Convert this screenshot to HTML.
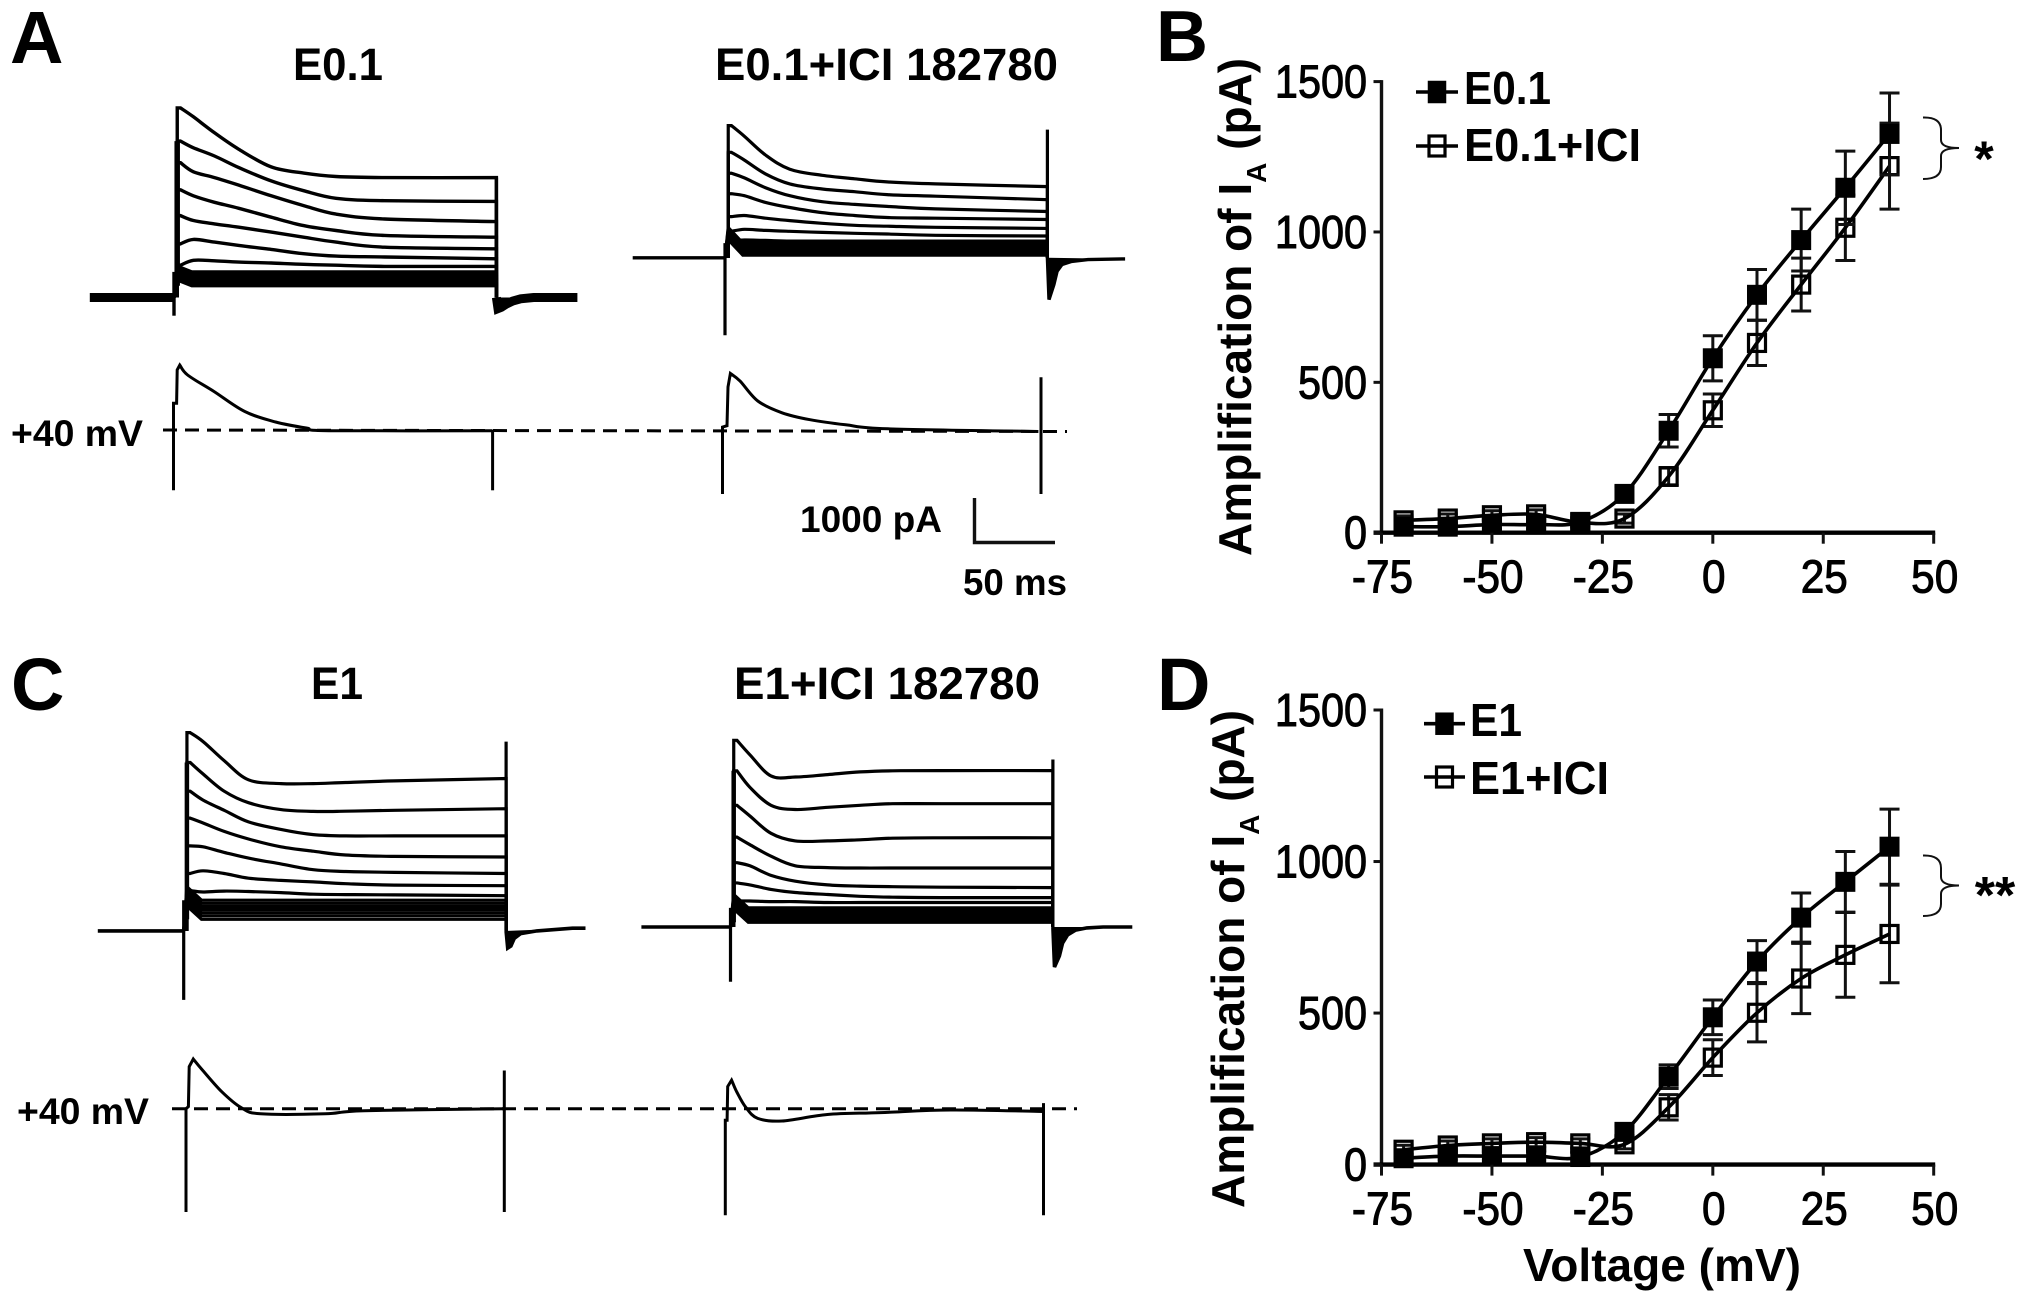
<!DOCTYPE html>
<html lang="en">
<head>
<meta charset="utf-8">
<title>Amplification of IA traces and I-V curves</title>
<style>
html,body{margin:0;padding:0;background:#fff}
svg{display:block}
text{font-family:"Liberation Sans",Arial,sans-serif;fill:#000}
.bold{font-weight:700}
</style>
</head>
<body>
<svg id="figure" xmlns="http://www.w3.org/2000/svg" width="2031" height="1306" viewBox="0 0 2031 1306">
<rect x="0" y="0" width="2031" height="1306" fill="#fff"/>

<text class="bold" x="10" y="63" font-size="74">A</text>
<text class="bold" x="1156" y="61" font-size="72">B</text>
<text class="bold" x="11" y="710" font-size="74">C</text>
<text class="bold" x="1157" y="710" font-size="74">D</text>

<text class="bold" x="293" y="80" font-size="45" textLength="90" lengthAdjust="spacingAndGlyphs">E0.1</text>
<text class="bold" x="715" y="80" font-size="45" textLength="343" lengthAdjust="spacingAndGlyphs">E0.1+ICI 182780</text>
<text class="bold" x="311" y="699" font-size="45" textLength="52" lengthAdjust="spacingAndGlyphs">E1</text>
<text class="bold" x="734" y="699" font-size="45" textLength="306" lengthAdjust="spacingAndGlyphs">E1+ICI 182780</text>

<text class="bold" x="11" y="446" font-size="37" textLength="132" lengthAdjust="spacingAndGlyphs">+40 mV</text>
<text class="bold" x="17" y="1124" font-size="37" textLength="132" lengthAdjust="spacingAndGlyphs">+40 mV</text>

<line x1="163" y1="430" x2="1067" y2="431.5" stroke="#000" stroke-width="3" stroke-dasharray="14 8"/>
<line x1="172" y1="1108.8" x2="1077" y2="1108.8" stroke="#000" stroke-width="3" stroke-dasharray="14 8"/>

<text class="bold" x="800" y="532" font-size="37" textLength="142" lengthAdjust="spacingAndGlyphs">1000 pA</text>
<text class="bold" x="963" y="595" font-size="37" textLength="104" lengthAdjust="spacingAndGlyphs">50 ms</text>
<path d="M974.5 498V542.5H1055" fill="none" stroke="#111" stroke-width="3.4"/>

<g id="traces"></g>
<g id="plot-b"></g>
<g id="plot-d"></g>

<text class="bold" transform="translate(1251,556) rotate(-90)" font-size="46">Amplification of I<tspan dy="15" font-size="28">A</tspan><tspan dy="-15"> (pA)</tspan></text>
<text class="bold" transform="translate(1244,1208) rotate(-90)" font-size="46">Amplification of I<tspan dy="15" font-size="28">A</tspan><tspan dy="-15"> (pA)</tspan></text>
<text class="bold" x="1523" y="1281" font-size="46" textLength="278" lengthAdjust="spacingAndGlyphs">Voltage (mV)</text>

<text class="bold" x="1464" y="104" font-size="46" textLength="87" lengthAdjust="spacingAndGlyphs">E0.1</text>
<text class="bold" x="1464" y="161" font-size="46" textLength="177" lengthAdjust="spacingAndGlyphs">E0.1+ICI</text>
<text class="bold" x="1470" y="736" font-size="46" textLength="52" lengthAdjust="spacingAndGlyphs">E1</text>
<text class="bold" x="1470" y="794" font-size="46" textLength="139" lengthAdjust="spacingAndGlyphs">E1+ICI</text>

<path d="M1923 117.5Q1941 117 1941 130V140Q1941 148 1959 148Q1941 148 1941 156V167Q1941 179 1923 179" fill="none" stroke="#111" stroke-width="2"/>
<text class="bold" x="1984" y="176" font-size="50" text-anchor="middle">*</text>
<path d="M1923 855.5Q1941 855 1941 868V877Q1941 885.5 1959 885.5Q1941 885.5 1941 894V904Q1941 916 1923 916" fill="none" stroke="#111" stroke-width="2"/>
<text class="bold" x="1995" y="913" font-size="52" text-anchor="middle">**</text>
</svg>

<script>
// ---------- I-V plot data (voltage in mV, amplitude in pA) ----------
const voltages = [-70, -60, -50, -40, -30, -20, -10, 0, 10, 20, 30, 40];
const xTickValues = [-75, -50, -25, 0, 25, 50];
const yTickValues = [0, 500, 1000, 1500];

const e01Mean = [20, 20, 27, 27, 36, 129, 339, 580, 791, 973, 1147, 1326];
const e01Err = [12, 12, 14, 14, 14, 25, 54, 75, 84, 103, 122, 136];
const e01IciMean = [41, 47, 58, 61, 34, 47, 187, 407, 631, 825, 1014, 1219];
const e01IciErr = [15, 15, 15, 15, 15, 15, 30, 54, 75, 88, 109, 143];

const e1Mean = [21, 28, 28, 28, 25, 108, 290, 486, 670, 815, 933, 1049];
const e1Err = [12, 12, 14, 14, 14, 20, 39, 57, 69, 81, 100, 124];
const e1IciMean = [49, 63, 70, 74, 70, 67, 189, 353, 501, 614, 692, 761];
const e1IciErr = [15, 15, 15, 15, 15, 15, 42, 59, 96, 116, 140, 161];

// ---------- Current traces (time in ms from step onset, current in pA) ----------
const sweepTimes = [4, 12, 25, 40, 60, 80, 100, 130, 199];

const sweepsE01 = [
  [4260, 4060, 3700, 3330, 2935, 2795, 2720, 2695, 2695],
  [3515, 3365, 3180, 2920, 2620, 2400, 2230, 2175, 2160],
  [3030, 2825, 2695, 2525, 2285, 2065, 1875, 1765, 1705],
  [2420, 2285, 2140, 2005, 1805, 1615, 1505, 1395, 1355],
  [1840, 1730, 1655, 1580, 1470, 1355, 1245, 1130, 1095],
  [1205, 1305, 1245, 1170, 1080, 985, 930, 910, 870],
  [725, 835, 825, 795, 775, 745, 725, 700, 700]
];
const bandE01 = [575, 520, 465, 410, 355, 300, 265];
const spikeDownE01 = -410;
const spikeUpEndE01 = 2695;
const tailTimesE01 = [0, 2, 5, 9, 14, 22];
const tailValuesE01 = [-250, -220, -150, -80, -30, 0];

const sweepsE01Ici = [
  [2970, 2730, 2310, 1990, 1855, 1775, 1705, 1660, 1600],
  [2370, 2195, 1885, 1660, 1545, 1485, 1420, 1385, 1305],
  [1900, 1795, 1575, 1395, 1260, 1200, 1155, 1100, 1040],
  [1440, 1395, 1245, 1130, 1015, 950, 905, 890, 860],
  [925, 950, 890, 835, 775, 730, 710, 685, 660],
  [595, 640, 615, 595, 570, 550, 535, 505, 490],
  [375, 400, 390, 375, 375, 375, 375, 375, 375]
];
const bandE01Ici = [330, 280, 230, 180, 130, 90, 60];
const spikeDownE01Ici = -1740;
const spikeUpEndE01Ici = 2880;
const tailTimesE01Ici = [0, 3, 5, 8, 14, 24, 45];
const tailValuesE01Ici = [-940, -600, -300, -150, -80, -40, -25];

const sweepsE1 = [
  [4455, 4255, 3825, 3395, 3310, 3310, 3335, 3370, 3425],
  [3785, 3525, 3140, 2880, 2725, 2685, 2690, 2710, 2745],
  [3140, 2940, 2710, 2450, 2280, 2165, 2135, 2135, 2135],
  [2535, 2425, 2235, 2065, 1890, 1790, 1705, 1675, 1660],
  [1910, 1890, 1765, 1635, 1505, 1375, 1335, 1315, 1290],
  [1290, 1350, 1290, 1185, 1135, 1100, 1060, 1030, 1015],
  [905, 875, 895, 885, 860, 825, 815, 810, 790]
];
const bandE1 = [690, 620, 550, 480, 410, 340, 260];
const spikeDownE1 = -1550;
const spikeUpEndE1 = 4255;
const tailTimesE1 = [0, 2, 4, 8, 18, 40];
const tailValuesE1 = [-387, -340, -170, -60, 0, 60];

const sweepsE1Ici = [
  [4195, 3870, 3395, 3370, 3425, 3485, 3510, 3515, 3515],
  [3510, 3140, 2735, 2640, 2690, 2735, 2770, 2770, 2770],
  [2735, 2495, 2105, 1935, 1935, 1960, 1995, 2005, 2005],
  [2020, 1850, 1590, 1375, 1335, 1325, 1325, 1325, 1325],
  [1445, 1375, 1160, 1030, 945, 920, 905, 895, 885],
  [990, 945, 845, 775, 730, 690, 670, 660, 660],
  [585, 585, 570, 570, 550, 550, 550, 550, 550]
];
const bandE1Ici = [430, 380, 330, 270, 210, 160, 105];
const spikeDownE1Ici = -1230;
const spikeUpEndE1Ici = 3765;
const tailTimesE1Ici = [0, 3, 5, 8, 13, 20, 30];
const tailValuesE1Ici = [-900, -650, -360, -180, -70, -20, 0];

// +40 mV subtracted (difference) traces
const diffTimesE01 = [1.9, 2.3, 3.9, 8.7, 25, 44, 63, 82, 96, 197];
const diffValuesE01 = [600, 1350, 1460, 1235, 865, 415, 180, 45, -15, -15];
const diffTimesE01Ici = [2.8, 3.4, 4.9, 10.9, 21.8, 36.7, 54, 76, 102, 195];
const diffValuesE01Ici = [130, 1000, 1305, 1130, 685, 420, 265, 150, 60, 0];
const diffTimesE1 = [1.5, 2, 4.5, 10.4, 22, 34, 46, 86, 110, 196];
const diffValuesE1 = [50, 945, 1118, 860, 387, 26, -112, -112, -43, 0];
const diffTimesE1Ici = [1.1, 1.5, 3.9, 7, 12.5, 20, 35, 63, 96, 139, 196];
const diffValuesE1Ici = [-258, 500, 645, 387, 43, -215, -275, -129, -86, -26, -60];

const diffSpikesE01 = [600, -1355, 0, -1355];
const diffSpikesE01Ici = [100, -1405, 1217, -1405];
const diffSpikesE1 = [0, -2320, 860, -2320];
const diffSpikesE1Ici = [-258, -2390, 129, -2390];

// ---------- Drawing ----------
const SVG_NS = 'http://www.w3.org/2000/svg';
const PX_PER_MS = 1.62;
const PX_PER_PA = 0.0445;
const PULSE_MS = 199;

function make(parent, tag, attrs) {
  const el = document.createElementNS(SVG_NS, tag);
  for (const k in attrs) el.setAttribute(k, attrs[k]);
  parent.appendChild(el);
  return el;
}

function pathFrom(points) {
  return points.map((p, i) => (i ? 'L' : 'M') + p[0].toFixed(1) + ' ' + p[1].toFixed(1)).join('');
}

// smooth curve through points (Catmull-Rom segments), without the leading M
function smoothSegments(points) {
  let d = '';
  for (let i = 0; i < points.length - 1; i++) {
    const p0 = points[i - 1] || points[i];
    const p1 = points[i];
    const p2 = points[i + 1];
    const p3 = points[i + 2] || p2;
    const c1x = p1[0] + (p2[0] - p0[0]) / 6;
    const c1y = p1[1] + (p2[1] - p0[1]) / 6;
    const c2x = p2[0] - (p3[0] - p1[0]) / 6;
    const c2y = p2[1] - (p3[1] - p1[1]) / 6;
    d += 'C' + c1x.toFixed(1) + ' ' + c1y.toFixed(1) + ' ' + c2x.toFixed(1) + ' ' + c2y.toFixed(1) + ' ' + p2[0].toFixed(1) + ' ' + p2[1].toFixed(1);
  }
  return d;
}

function drawCurrentPanel(root, cfg) {
  const tx = t => cfg.x0 + t * PX_PER_MS;
  const ty = v => cfg.baseY - v * PX_PER_PA;
  const style = { fill: 'none', stroke: '#000', 'stroke-width': cfg.width, 'stroke-linejoin': 'miter' };

  const pre = make(root, 'path', Object.assign({ d: pathFrom([[tx(cfg.preMs), ty(0)], [tx(0), ty(0)]]) }, style, { 'stroke-width': cfg.baseWidth }));
  
  

  cfg.sweeps.forEach(values => {
    const pts = sweepTimes.map((t, i) => [tx(t), ty(values[i])]);
    const d = 'M' + tx(2) + ' ' + ty(0) + 'L' + tx(2) + ' ' + ty(values[0]) + 'L' + pts[0][0] + ' ' + pts[0][1] + smoothSegments(pts) + 'L' + tx(PULSE_MS) + ' ' + ty(0);
    const sweep = make(root, 'path', Object.assign({ d: d }, style));
    
    
  });

  cfg.band.forEach(level => {
    const pts = [[tx(0), ty(0)], [tx(2), ty(level + cfg.bandExtra)], [tx(11), ty(level)], [tx(PULSE_MS), ty(level)], [tx(PULSE_MS), ty(0)]];
    const sweep = make(root, 'path', Object.assign({ d: pathFrom(pts) }, style));
    
    
  });

  const column = make(root, 'path', Object.assign({ d: pathFrom([[tx(2), ty(cfg.sweeps[1][0])], [tx(2), ty(cfg.band[cfg.band.length - 1])]]) }, style, { 'stroke-width': cfg.onsetWidth }));
  
  

  const onset = make(root, 'path', Object.assign({ d: pathFrom([[tx(0), ty(cfg.band[0])], [tx(0), ty(cfg.spikeDown)]]) }, style));
  
  

  const offset = make(root, 'path', Object.assign({ d: pathFrom([[tx(PULSE_MS), ty(cfg.spikeUpEnd)], [tx(PULSE_MS), ty(0)]]) }, style));
  
  

  const tailPts = cfg.tailTimes.map((t, i) => [tx(PULSE_MS + 1 + t), ty(cfg.tailValues[i])]);
  const tailLine = [[tx(PULSE_MS), ty(0)]].concat(tailPts, [[tx(cfg.postMs), ty(cfg.tailValues[cfg.tailValues.length - 1])]]);
  const tail = make(root, 'path', Object.assign({ d: pathFrom(tailLine) }, style, { 'stroke-width': cfg.baseWidth }));
  
  

  const tailFill = make(root, 'path', { d: pathFrom([[tx(PULSE_MS), ty(0)]].concat(tailPts)) + 'Z', fill: '#000', stroke: 'none' });
  
  

  const dtx = t => cfg.diffX0 + t * PX_PER_MS;
  const dty = v => cfg.diffY - v * PX_PER_PA;
  const diffPts = cfg.diffTimes.map((t, i) => [dtx(t), dty(cfg.diffValues[i])]);
  const head = [[dtx(0), dty(cfg.diffSpikes[1])], [dtx(0), dty(cfg.diffSpikes[0])], diffPts[0], diffPts[1], diffPts[2]];
  const diff = make(root, 'path', Object.assign({ d: pathFrom(head) + smoothSegments(diffPts.slice(2)) }, style, { 'stroke-width': 3 }));
  
  

  const endX = dtx(cfg.diffEndMs);
  const diffEnd = make(root, 'path', Object.assign({ d: pathFrom([[endX, dty(cfg.diffSpikes[2])], [endX, dty(cfg.diffSpikes[3])]]) }, style, { 'stroke-width': 3 }));
  
  
}

const tracesRoot = document.getElementById('traces');
drawCurrentPanel(tracesRoot, { x0: 174, baseY: 297.5, width: 3.4, baseWidth: 9, onsetWidth: 5.5, bandExtra: 130, preMs: -52, postMs: 249, sweeps: sweepsE01, band: bandE01, spikeDown: spikeDownE01, spikeUpEnd: spikeUpEndE01, tailTimes: tailTimesE01, tailValues: tailValuesE01, diffX0: 173.5, diffY: 430, diffTimes: diffTimesE01, diffValues: diffValuesE01, diffSpikes: diffSpikesE01, diffEndMs: 197 });
drawCurrentPanel(tracesRoot, { x0: 725, baseY: 257.8, width: 3.2, baseWidth: 3.4, onsetWidth: 3.4, bandExtra: 350, preMs: -57, postMs: 247, sweeps: sweepsE01Ici, band: bandE01Ici, spikeDown: spikeDownE01Ici, spikeUpEnd: spikeUpEndE01Ici, tailTimes: tailTimesE01Ici, tailValues: tailValuesE01Ici, diffX0: 722.5, diffY: 431.5, diffTimes: diffTimesE01Ici, diffValues: diffValuesE01Ici, diffSpikes: diffSpikesE01Ici, diffEndMs: 196.6 });
drawCurrentPanel(tracesRoot, { x0: 183.7, baseY: 930.9, width: 3.2, baseWidth: 3.6, onsetWidth: 4.5, bandExtra: 300, preMs: -53, postMs: 248, sweeps: sweepsE1, band: bandE1, spikeDown: spikeDownE1, spikeUpEnd: spikeUpEndE1, tailTimes: tailTimesE1, tailValues: tailValuesE1, diffX0: 186, diffY: 1108.8, diffTimes: diffTimesE1, diffValues: diffValuesE1, diffSpikes: diffSpikesE1, diffEndMs: 196.5 });
drawCurrentPanel(tracesRoot, { x0: 730.5, baseY: 927, width: 3.2, baseWidth: 3.6, onsetWidth: 4.5, bandExtra: 300, preMs: -55, postMs: 248, sweeps: sweepsE1Ici, band: bandE1Ici, spikeDown: spikeDownE1Ici, spikeUpEnd: spikeUpEndE1Ici, tailTimes: tailTimesE1Ici, tailValues: tailValuesE1Ici, diffX0: 725.3, diffY: 1108.8, diffTimes: diffTimesE1Ici, diffValues: diffValuesE1Ici, diffSpikes: diffSpikesE1Ici, diffEndMs: 196.4 });

function drawSeries(root, sx, sy, means, errs, filled) {
  const linePts = voltages.map((v, i) => [sx(v), sy(means[i])]);
  voltages.forEach((v, i) => {
    const x = sx(v);
    const top = sy(means[i] + errs[i]);
    const bottom = sy(means[i] - errs[i]);
    const bar = make(root, 'path', {
      d: 'M' + x + ' ' + top + 'V' + bottom + 'M' + (x - 10) + ' ' + top + 'H' + (x + 10) + 'M' + (x - 10) + ' ' + bottom + 'H' + (x + 10),
      fill: 'none', stroke: '#111', 'stroke-width': 3
    });
    
    
  });
  const line = make(root, 'path', { d: 'M' + linePts[0][0] + ' ' + linePts[0][1] + smoothSegments(linePts), fill: 'none', stroke: '#000', 'stroke-width': 3.6, 'stroke-linejoin': 'round' });
  
  
  voltages.forEach((v, i) => {
    const size = filled ? 19 : 17;
    const marker = make(root, 'rect', {
      x: sx(v) - size / 2, y: sy(means[i]) - size / 2, width: size, height: size,
      fill: filled ? '#000' : 'none', stroke: '#000', 'stroke-width': filled ? 1 : 3.2
    });
    
    
  });
}

function drawAxes(root, sx, sy, x0, y0) {
  const xEnd = sx(50);
  const yTop = sy(1500);
  const yAxis = make(root, 'line', { x1: sx(-75), y1: yTop - 1.5, x2: sx(-75), y2: y0 + 2, stroke: '#111', 'stroke-width': 3.4 });
  
  
  const xAxis = make(root, 'line', { x1: sx(-75) - 8, y1: y0, x2: xEnd + 1.5, y2: y0, stroke: '#000', 'stroke-width': 4.4 });
  
  

  yTickValues.forEach(v => {
    const tick = make(root, 'line', { x1: sx(-75) - 8, y1: sy(v), x2: sx(-75), y2: sy(v), stroke: '#111', 'stroke-width': 3 });
    
    
    const label = make(root, 'text', { transform: 'translate(1367,' + (sy(v) + 16) + ') scale(0.9,1)', 'font-size': 46, 'text-anchor': 'end', stroke: '#000', 'stroke-width': 1 });
    label.textContent = String(v);
    
    
  });
  xTickValues.forEach(v => {
    const tick = make(root, 'line', { x1: sx(v), y1: y0, x2: sx(v), y2: y0 + 11, stroke: '#111', 'stroke-width': 3 });
    
    
    const label = make(root, 'text', { transform: 'translate(' + (sx(v) + 1) + ',' + (y0 + 60) + ') scale(0.92,1)', 'font-size': 46, 'text-anchor': 'middle', stroke: '#000', 'stroke-width': 1 });
    label.textContent = String(v);
    
    
  });
}

function drawLegendKey(root, x1, x2, y, filled) {
  const line = make(root, 'line', { x1: x1, y1: y, x2: x2, y2: y, stroke: '#000', 'stroke-width': 3.6 });
  
  
  const w = filled ? 18 : 16;
  const h = filled ? 22 : 20;
  const cx = (x1 + x2) / 2;
  const marker = make(root, 'rect', { x: cx - w / 2, y: y - h / 2, width: w, height: h, fill: filled ? '#000' : 'none', stroke: '#000', 'stroke-width': filled ? 0.5 : 3.2 });
  
  
}

function drawPlot(root, y0, yTopPx, filledMean, filledErr, openMean, openErr) {
  const sx = v => 1381.5 + (v + 75) * (552.2 / 125);
  const sy = v => y0 - v * ((y0 - yTopPx) / 1500);
  drawSeries(root, sx, sy, openMean, openErr, false);
  drawSeries(root, sx, sy, filledMean, filledErr, true);
  drawAxes(root, sx, sy, sx(-75), y0);
}

const plotB = document.getElementById('plot-b');
const plotD = document.getElementById('plot-d');
drawPlot(plotB, 532.7, 81.6, e01Mean, e01Err, e01IciMean, e01IciErr);
drawPlot(plotD, 1164.6, 710, e1Mean, e1Err, e1IciMean, e1IciErr);
drawLegendKey(plotB, 1416, 1458, 92, true);
drawLegendKey(plotB, 1416, 1458, 146, false);
drawLegendKey(plotD, 1424, 1465, 723.7, true);
drawLegendKey(plotD, 1424, 1465, 777, false);
</script>
</body>
</html>
